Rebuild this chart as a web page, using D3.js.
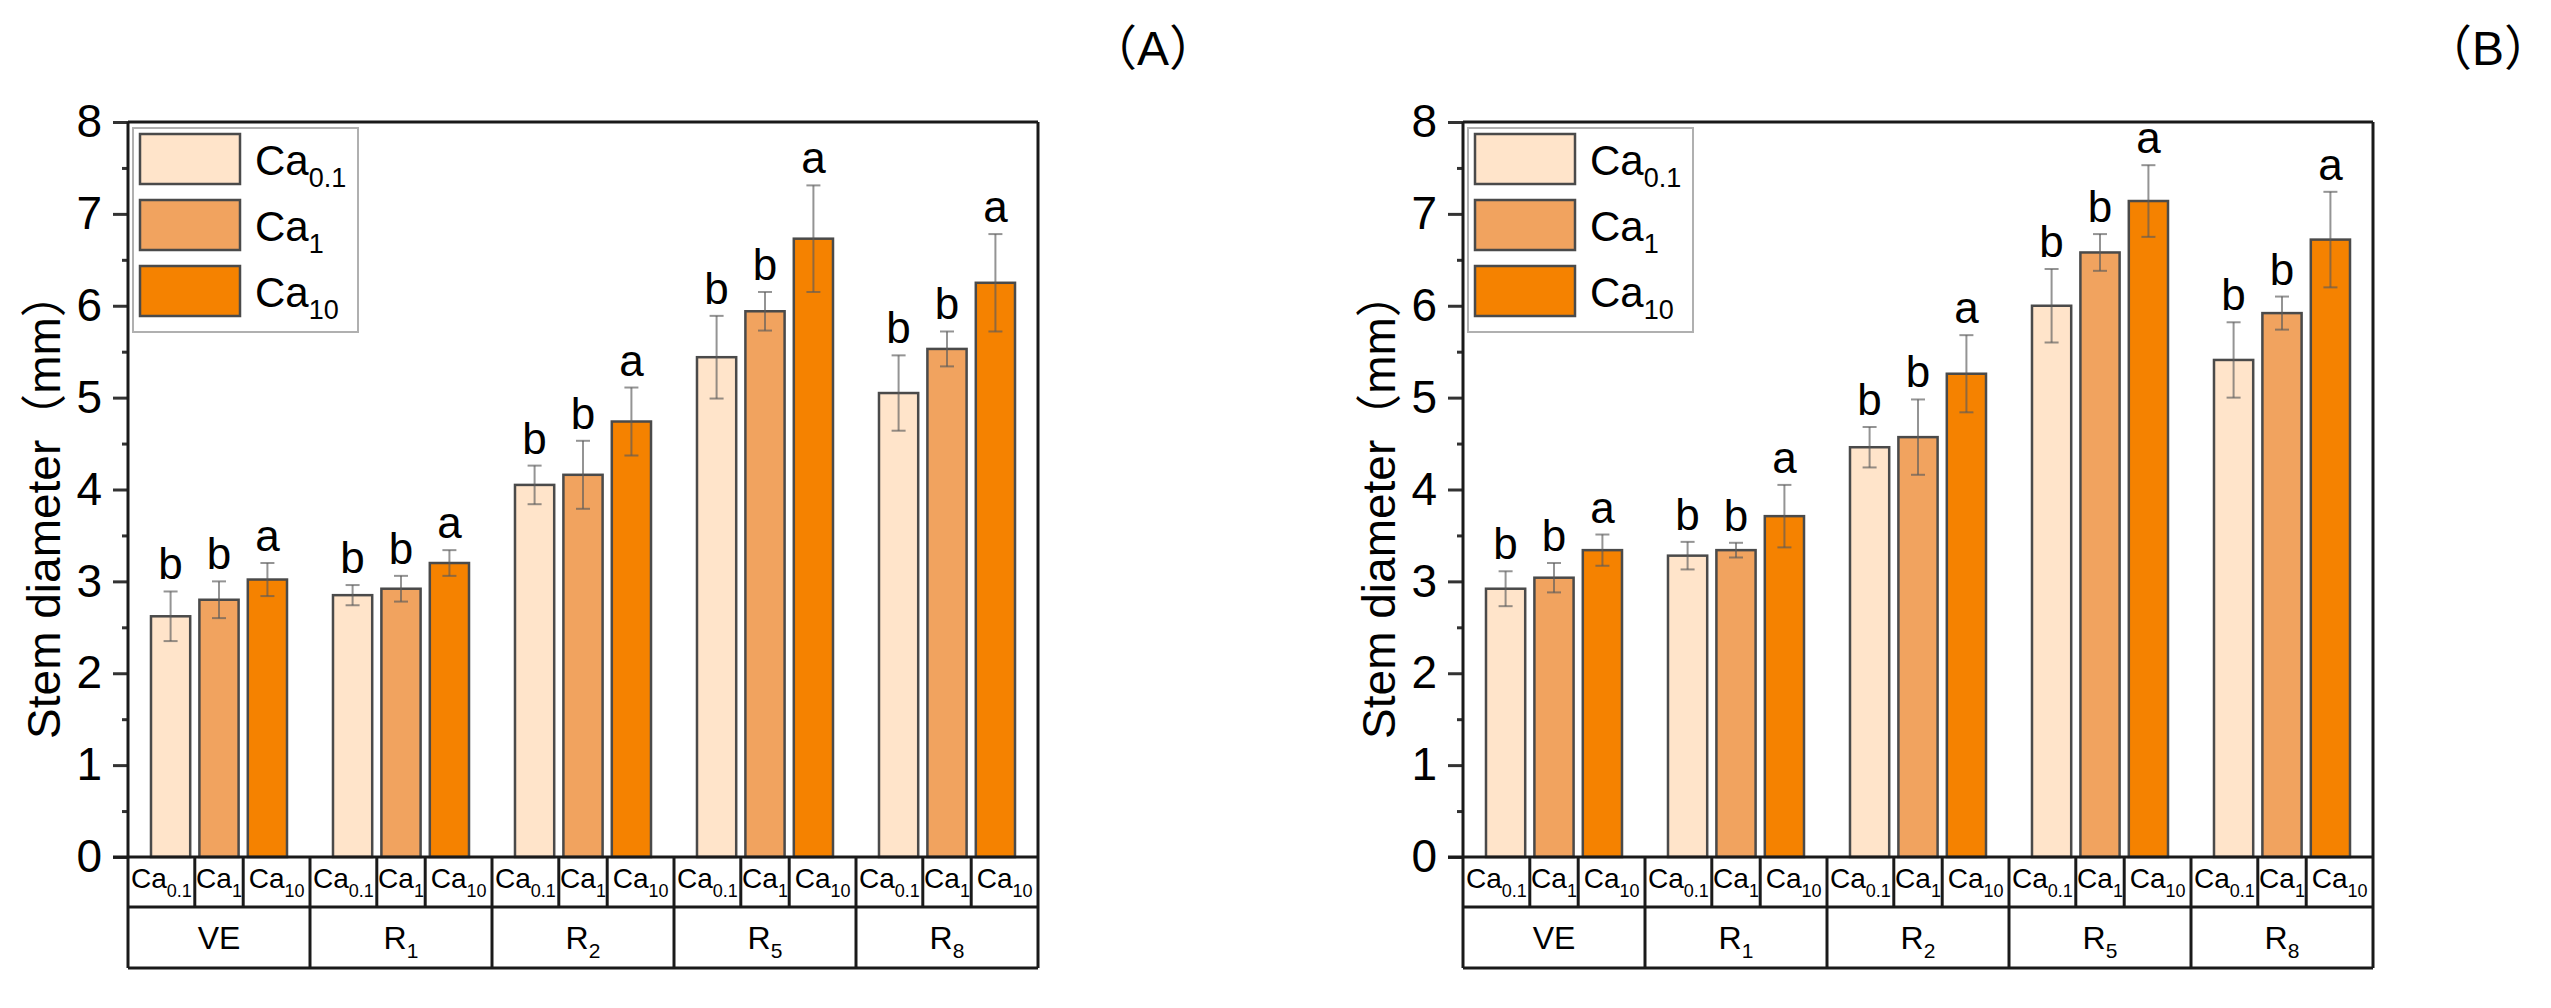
<!DOCTYPE html>
<meta charset="utf-8">
<style>
  body { margin: 0; background: #fff; }
  text { font-family: "Liberation Sans", Arial, "Noto Sans CJK SC", sans-serif; fill: #000; }
</style>
<body>
<script src="https://d3js.org/d3.v7.min.js"></script>
<script>
// stages (x groups) and Ca treatments (series)
var stageBase = ["VE", "R", "R", "R", "R"];
var stageSub = ["", "1", "2", "5", "8"];
var seriesSub = ["0.1", "1", "10"];
var seriesColors = ["#ffe4ca", "#f1a35f", "#f58200"];
var yTicks = [0, 1, 2, 3, 4, 5, 6, 7, 8];
var yMinorTicks = [0.5, 1.5, 2.5, 3.5, 4.5, 5.5, 6.5, 7.5];

// panel A
var meanA01 = [2.62, 2.85, 4.05, 5.44, 5.05];
var meanA1 = [2.80, 2.92, 4.16, 5.94, 5.53];
var meanA10 = [3.02, 3.20, 4.74, 6.73, 6.25];
var sdA01 = [0.27, 0.11, 0.21, 0.45, 0.41];
var sdA1 = [0.20, 0.14, 0.37, 0.21, 0.19];
var sdA10 = [0.18, 0.14, 0.37, 0.58, 0.53];
var lettersA01 = ["b", "b", "b", "b", "b"];
var lettersA1 = ["b", "b", "b", "b", "b"];
var lettersA10 = ["a", "a", "a", "a", "a"];

// panel B
var meanB01 = [2.92, 3.28, 4.46, 6.00, 5.41];
var meanB1 = [3.04, 3.34, 4.57, 6.58, 5.92];
var meanB10 = [3.34, 3.71, 5.26, 7.14, 6.72];
var sdB01 = [0.19, 0.15, 0.22, 0.40, 0.41];
var sdB1 = [0.16, 0.08, 0.41, 0.20, 0.18];
var sdB10 = [0.17, 0.34, 0.42, 0.39, 0.52];
var lettersB01 = ["b", "b", "b", "b", "b"];
var lettersB1 = ["b", "b", "b", "b", "b"];
var lettersB10 = ["a", "a", "a", "a", "a"];

var width = 2551, height = 1008;
var svg = d3.select("body").append("svg")
  .attr("width", width)
  .attr("height", height);

// text with a subscript part
function subText(sel, base, sub, subSize, dy) {
  sel.append("tspan").text(base);
  if (sub) sel.append("tspan").attr("font-size", subSize).attr("dy", dy).text(sub);
}

function drawPanel(opt) {
  var x0 = opt.left, x1 = opt.left + 910;
  var yTop = 122, yZero = 857, row1 = 907, row2 = 968;
  var g = svg.append("g");

  var y = d3.scaleLinear().domain([0, 8]).range([yZero, yTop]);
  var xg = d3.scaleBand().domain(d3.range(5)).range([x0, x1]);
  var xs = d3.scaleBand().domain(d3.range(3)).range([0, xg.bandwidth()])
    .paddingInner(0.19).paddingOuter(0.475);

  // bars
  var rows = [];
  for (var s = 0; s < 3; s++) {
    for (var i = 0; i < 5; i++) {
      rows.push({ s: s, i: i, m: opt.means[s][i], sd: opt.sds[s][i], l: opt.letters[s][i] });
    }
  }
  var cx = function(d) { return xg(d.i) + xs(d.s) + xs.bandwidth() / 2; };

  g.selectAll("rect.bar").data(rows).join("rect")
    .attr("class", "bar")
    .attr("x", function(d) { return xg(d.i) + xs(d.s); })
    .attr("y", function(d) { return y(d.m); })
    .attr("width", xs.bandwidth())
    .attr("height", function(d) { return y(0) - y(d.m); })
    .attr("fill", function(d) { return seriesColors[d.s]; })
    .attr("stroke", "#4a4a4a")
    .attr("stroke-width", 2.5);

  // error bars
  var eb = g.selectAll("g.err").data(rows).join("g").attr("class", "err")
    .attr("stroke", "#5a5a5a").attr("stroke-opacity", 0.65).attr("stroke-width", 2);
  eb.append("line")
    .attr("x1", cx).attr("x2", cx)
    .attr("y1", function(d) { return y(d.m + d.sd); })
    .attr("y2", function(d) { return y(d.m - d.sd); });
  eb.append("line")
    .attr("x1", function(d) { return cx(d) - 7; }).attr("x2", function(d) { return cx(d) + 7; })
    .attr("y1", function(d) { return y(d.m + d.sd); }).attr("y2", function(d) { return y(d.m + d.sd); });
  eb.append("line")
    .attr("x1", function(d) { return cx(d) - 7; }).attr("x2", function(d) { return cx(d) + 7; })
    .attr("y1", function(d) { return y(d.m - d.sd); }).attr("y2", function(d) { return y(d.m - d.sd); });

  // significance letters
  g.selectAll("text.sig").data(rows).join("text")
    .attr("class", "sig")
    .attr("x", cx)
    .attr("y", function(d) { return y(d.m + d.sd) - 12; })
    .attr("text-anchor", "middle")
    .attr("font-size", 44)
    .text(function(d) { return d.l; });

  // y axis
  var ax = g.append("g").attr("transform", "translate(" + x0 + ",0)")
    .call(d3.axisLeft(y).tickValues(yTicks).tickSize(15).tickSizeOuter(0).tickPadding(11));
  ax.select(".domain").remove();
  ax.selectAll("line").attr("stroke", "#333").attr("stroke-width", 3);
  ax.selectAll("text").attr("font-size", 46).attr("font-family", "Liberation Sans, Arial, sans-serif");
  var axm = g.append("g").attr("transform", "translate(" + x0 + ",0)")
    .call(d3.axisLeft(y).tickValues(yMinorTicks).tickSize(6).tickFormat(""));
  axm.select(".domain").remove();
  axm.selectAll("line").attr("stroke", "#333").attr("stroke-width", 3);

  // frame and category table
  var fr = g.append("g").attr("stroke", "#1a1a1a").attr("stroke-width", 3).attr("fill", "none");
  fr.append("line").attr("x1", x0).attr("x2", x0).attr("y1", yTop).attr("y2", row2);
  fr.append("line").attr("x1", x1).attr("x2", x1).attr("y1", yTop).attr("y2", row2);
  fr.append("line").attr("x1", x0).attr("x2", x1).attr("y1", yTop).attr("y2", yTop);
  fr.append("line").attr("x1", x0 - 15).attr("x2", x1).attr("y1", y(0)).attr("y2", y(0));
  fr.append("line").attr("x1", x0).attr("x2", x1).attr("y1", row1).attr("y2", row1);
  fr.append("line").attr("x1", x0).attr("x2", x1).attr("y1", row2).attr("y2", row2);
  for (var k = 1; k < 5; k++) {
    fr.append("line").attr("x1", xg(k)).attr("x2", xg(k)).attr("y1", y(0)).attr("y2", row2);
  }
  var cellEdges = [];
  for (var i2 = 0; i2 < 5; i2++) {
    var gx = xg(i2);
    var c = [0, 1, 2].map(function(s) { return gx + xs(s) + xs.bandwidth() / 2; });
    var e = [gx, (c[0] + c[1]) / 2, (c[1] + c[2]) / 2, gx + xg.bandwidth()];
    cellEdges.push(e);
    fr.append("line").attr("x1", e[1]).attr("x2", e[1]).attr("y1", y(0)).attr("y2", row1);
    fr.append("line").attr("x1", e[2]).attr("x2", e[2]).attr("y1", y(0)).attr("y2", row1);
    for (var s2 = 0; s2 < 3; s2++) {
      var t = g.append("text")
        .attr("x", (e[s2] + e[s2 + 1]) / 2)
        .attr("y", 888)
        .attr("text-anchor", "middle")
        .attr("font-size", 28);
      subText(t, "Ca", seriesSub[s2], 18, 9);
    }
    var t2 = g.append("text")
      .attr("x", gx + xg.bandwidth() / 2)
      .attr("y", 949)
      .attr("text-anchor", "middle")
      .attr("font-size", 32);
    subText(t2, stageBase[i2], stageSub[i2], 21, 9);
  }

  // y title
  g.append("text")
    .attr("transform", "translate(" + (x0 - 68) + "," + 505 + ") rotate(-90)")
    .attr("text-anchor", "middle")
    .attr("font-size", 46)
    .text("Stem diameter（mm）");

  // legend
  var lg = g.append("g").attr("transform", "translate(" + x0 + ",0)");
  lg.append("rect").attr("x", 5).attr("y", 128).attr("width", 225).attr("height", 204)
    .attr("fill", "#fff").attr("stroke", "#b0b0b0").attr("stroke-width", 2);
  var li = lg.selectAll("g.li").data([0, 1, 2]).join("g").attr("class", "li")
    .attr("transform", function(d) { return "translate(0," + (134 + d * 66) + ")"; });
  li.append("rect").attr("x", 12).attr("y", 0).attr("width", 100).attr("height", 50)
    .attr("fill", function(d) { return seriesColors[d]; })
    .attr("stroke", "#4a4a4a").attr("stroke-width", 2.5);
  li.each(function(d) {
    var t = d3.select(this).append("text").attr("x", 127).attr("y", 41).attr("font-size", 42);
    subText(t, "Ca", seriesSub[d], 27, 12);
  });

  // panel label
  g.append("text")
    .attr("x", opt.labelX).attr("y", 65)
    .attr("text-anchor", "middle")
    .attr("font-size", 48)
    .text(opt.label);
}

drawPanel({
  left: 128, label: "（A）", labelX: 1153,
  means: [meanA01, meanA1, meanA10], sds: [sdA01, sdA1, sdA10],
  letters: [lettersA01, lettersA1, lettersA10]
});
drawPanel({
  left: 1463, label: "（B）", labelX: 2488,
  means: [meanB01, meanB1, meanB10], sds: [sdB01, sdB1, sdB10],
  letters: [lettersB01, lettersB1, lettersB10]
});
</script>
</body>
